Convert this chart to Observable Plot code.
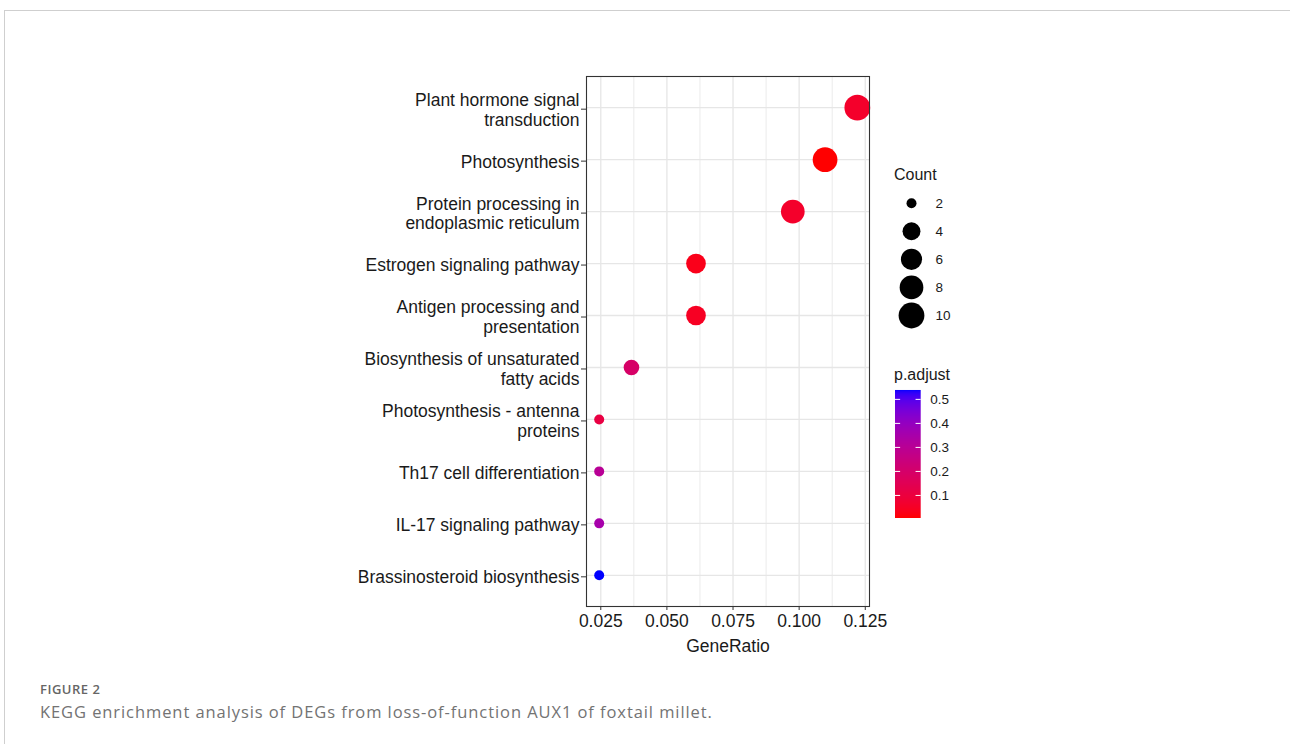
<!DOCTYPE html>
<html>
<head>
<meta charset="utf-8">
<script src="https://cdn.jsdelivr.net/npm/d3@7"></script>
<script src="https://cdn.jsdelivr.net/npm/@observablehq/plot@0.6"></script>
<style>
  html, body { margin: 0; padding: 0; background: #fff; }
  body { width: 1290px; height: 744px; overflow: hidden; position: relative; font-family: "Liberation Sans", Arial, sans-serif; }
  #frame { position: absolute; left: 4px; top: 10px; right: 0; bottom: 0; border-top: 1px solid #cfcfcf; border-left: 1px solid #cfcfcf; }
  #main { position: absolute; left: 0; top: 0; }
  #countLegend { position: absolute; left: 880px; top: 185px; }
  #colorLegend { position: absolute; left: 880px; top: 370px; }
  .ltitle { position: absolute; font-size: 16px; color: #1a1a1a; line-height: 18px; }
  #fig { position: absolute; left: 40px; top: 681px; font-family: "Open Sans", sans-serif; font-size: 13px; letter-spacing: 0.5px; color: #666; font-weight: 600; line-height: 16px; }
  #cap { position: absolute; left: 40px; top: 701px; font-family: "Open Sans", sans-serif; font-size: 16.5px; letter-spacing: 0.92px; color: #737373; line-height: 22px; }
</style>
</head>
<body>
<div id="frame"></div>
<div id="main"></div>
<div class="ltitle" style="left:894px;top:166px;">Count</div>
<div id="countLegend"></div>
<div class="ltitle" style="left:894px;top:366px;">p.adjust</div>
<div id="colorLegend"></div>
<div id="fig">FIGURE 2</div>
<div id="cap">KEGG enrichment analysis of DEGs from loss-of-function AUX1 of foxtail millet.</div>
<script>
// ---- data ----
const pathways = [
  "Plant hormone signal transduction",
  "Photosynthesis",
  "Protein processing in endoplasmic reticulum",
  "Estrogen signaling pathway",
  "Antigen processing and presentation",
  "Biosynthesis of unsaturated fatty acids",
  "Photosynthesis - antenna proteins",
  "Th17 cell differentiation",
  "IL-17 signaling pathway",
  "Brassinosteroid biosynthesis"
];
const pathwayLabels = [
  "Plant hormone signal\ntransduction",
  "Photosynthesis",
  "Protein processing in\nendoplasmic reticulum",
  "Estrogen signaling pathway",
  "Antigen processing and\npresentation",
  "Biosynthesis of unsaturated\nfatty acids",
  "Photosynthesis - antenna\nproteins",
  "Th17 cell differentiation",
  "IL-17 signaling pathway",
  "Brassinosteroid biosynthesis"
];
const geneRatio = [0.1220, 0.1098, 0.0976, 0.0610, 0.0610, 0.0366, 0.0244, 0.0244, 0.0244, 0.0244];
const counts    = [10, 9, 8, 5, 5, 3, 2, 2, 2, 2];
const pAdjust   = [0.060, 0.004, 0.060, 0.030, 0.045, 0.190, 0.110, 0.300, 0.350, 0.537];

const xTicks = [0.025, 0.050, 0.075, 0.100, 0.125];
const xMinor = [0.0375, 0.0625, 0.0875, 0.1125];
const countBreaks = [2, 4, 6, 8, 10];
const pBreaks = [0.1, 0.2, 0.3, 0.4, 0.5];
const xDomain = [0.0196, 0.1266];

// ---- shared scales ----
const pMin = d3.min(pAdjust), pMax = d3.max(pAdjust);
const cMin = d3.min(countBreaks), cMax = d3.max(countBreaks);
const colorOpts = { type: "linear", domain: [pMin, pMax], range: ["red", "blue"], interpolate: "lab" };
const rOpts = { type: "linear", domain: [0, 1], range: [5, 12.9] };
// ggplot-style area scaling of the count
const sizeOf = c => Math.sqrt((c - cMin) / (cMax - cMin));

const table = pathways.map((p, i) => ({ pathway: p, ratio: geneRatio[i], count: counts[i], padj: pAdjust[i] }));
const labelOf = new Map(pathways.map((p, i) => [p, pathwayLabels[i]]));

const grid = "#e6e6e6";
const main = Plot.plot({
  width: 900, height: 670,
  marginLeft: 586, marginRight: 31, marginTop: 76, marginBottom: 64,
  style: { fontFamily: "'Liberation Sans', Arial, sans-serif", fontSize: "17.5px", background: "transparent", overflow: "visible" },
  x: { domain: xDomain },
  y: { type: "point", domain: pathways, padding: 0.6, round: false },
  r: rOpts,
  color: colorOpts,
  marks: [
    Plot.ruleX(xMinor, { stroke: grid, strokeWidth: 0.8 }),
    Plot.ruleX(xTicks, { stroke: grid, strokeWidth: 1.3 }),
    Plot.ruleY(pathways, { y: d => d, stroke: grid, strokeWidth: 1.3 }),
    Plot.dot(table, { x: "ratio", y: "pathway", r: d => sizeOf(d.count), fill: "padj", stroke: null }),
    Plot.frame({ stroke: "#333", strokeWidth: 1.1 }),
    Plot.axisY({ tickSize: 5, tickPadding: 2, tickFormat: d => labelOf.get(d), fill: "#1a1a1a", stroke: "#333", lineHeight: 1.14, dy: 1.5, label: null }),
    Plot.axisX({ ticks: xTicks, tickFormat: d3.format(".3f"), tickSize: 4, tickPadding: 4, fill: "#1a1a1a", stroke: "#333",
                 label: "GeneRatio", labelAnchor: "center", labelOffset: 45, labelArrow: "none" })
  ]
});
document.getElementById("main").appendChild(main);

// ---- Count legend ----
const countLegend = Plot.plot({
  width: 100, height: 150,
  marginLeft: 0, marginRight: 38, marginTop: 17.7, marginBottom: 20,
  style: { fontFamily: "'Liberation Sans', Arial, sans-serif", fontSize: "13.5px", background: "transparent", overflow: "visible" },
  y: { type: "point", domain: countBreaks, padding: 0, round: false, axis: null },
  r: rOpts,
  marks: [
    Plot.dot(countBreaks, { y: d => d, r: d => sizeOf(d), fill: "black", stroke: null }),
    Plot.text(countBreaks, { y: d => d, text: d => String(d), dx: 24, textAnchor: "start", fill: "#1a1a1a" })
  ]
});
document.getElementById("countLegend").appendChild(countLegend);

// ---- p.adjust colour bar ----
const nSteps = 128;
const rampStep = (pMax - pMin) / nSteps;
const ramp = d3.range(nSteps).map(i => pMin + rampStep * i);
const colorLegend = Plot.plot({
  width: 100, height: 160,
  marginLeft: 15, marginRight: 59.3, marginTop: 20, marginBottom: 12,
  style: { fontFamily: "'Liberation Sans', Arial, sans-serif", fontSize: "13.5px", background: "transparent", overflow: "visible" },
  x: { domain: [0, 1], axis: null },
  y: { domain: [pMin, pMax], axis: null },
  color: colorOpts,
  marks: [
    Plot.rect(ramp, { x1: 0, x2: 1, y1: d => d, y2: d => d + rampStep * 1.02, fill: d => d + rampStep / 2, stroke: null }),
    Plot.ruleY(pBreaks, { y: d => d, x1: 0, x2: 0.2, stroke: "white", strokeWidth: 1 }),
    Plot.ruleY(pBreaks, { y: d => d, x1: 0.8, x2: 1, stroke: "white", strokeWidth: 1 }),
    Plot.text(pBreaks, { x: 1, y: d => d, text: d => d.toFixed(1), dx: 9, textAnchor: "start", fill: "#1a1a1a" })
  ]
});
document.getElementById("colorLegend").appendChild(colorLegend);
</script>
</body>
</html>
